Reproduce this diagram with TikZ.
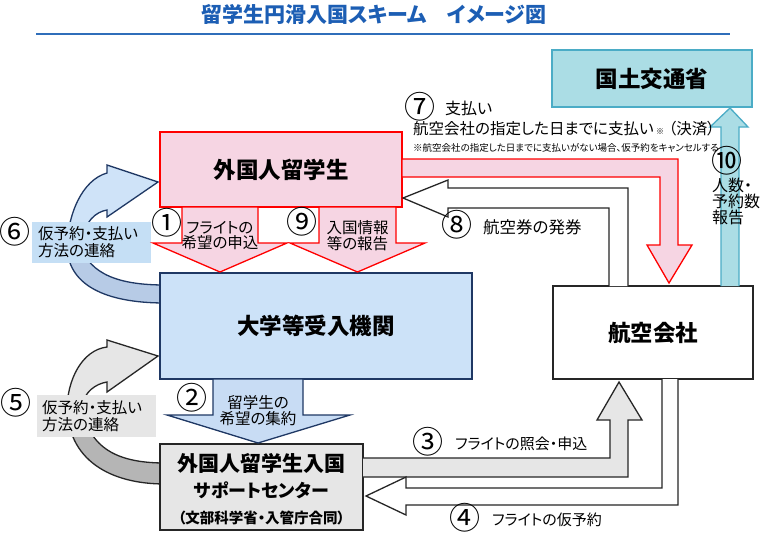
\documentclass[tikz,border=0pt]{standalone}
\usepackage{fontspec}
\setmainfont{Noto Sans CJK JP}[RawFeature=+palt]
\definecolor{titleblue}{HTML}{1C5EB4}
\definecolor{linecol}{HTML}{2F6EBA}
\definecolor{pinkf}{HTML}{F6D5E3}
\definecolor{univf}{HTML}{CCE2F8}
\definecolor{navy}{HTML}{1F3864}
\definecolor{arrowbf}{HTML}{C8DCF4}
\definecolor{bluetop}{HTML}{CFE3F8}
\definecolor{bluebot}{HTML}{B7CBE6}
\definecolor{lbl6f}{HTML}{C5DFF5}
\definecolor{grayf}{HTML}{E6E6E6}
\definecolor{graybot}{HTML}{B5B5B5}
\definecolor{darkline}{HTML}{262626}
\definecolor{tealf}{HTML}{ABDDE5}
\definecolor{teall}{HTML}{4BACC6}
\begin{document}
\begin{tikzpicture}[x=1pt,y=-1pt,
  box/.style={draw, line width=1.5pt, inner sep=0, align=center, font=\bfseries\fontsize{22.5}{24}\selectfont},
  num/.style={inner sep=0, font=\fontsize{31}{31}\selectfont},
  albl/.style={inner sep=0, align=center, font=\fontsize{15.5}{15.5}\selectfont},
  txt/.style={inner sep=0, anchor=west},
  redarr/.style={draw=red, fill=pinkf, line width=1.3pt, line join=miter},
  bluearr/.style={draw=navy, fill=arrowbf, line width=1.3pt, line join=miter},
  blkarr/.style={draw=darkline, line width=1.3pt, line join=miter},
  tealarr/.style={draw=teall, fill=tealf, line width=1.3pt, line join=miter}]
\useasboundingbox (0,0) rectangle (767,532);
\fill[white] (0,0) rectangle (767,532);

% title
\node[inner sep=0, text=titleblue, font=\bfseries\fontsize{21}{22}\selectfont] (title) at (374,14) {留学生円滑入国スキーム　イメージ図};
\draw[linecol, line width=2pt] (36,34) -- (730,34);

% curved arrow 6 (blue)
\draw[draw=navy, fill=bluebot, line width=1.3pt] (67,245) .. controls (67,285) and (105,303) .. (165,303) -- (165,285) .. controls (120,285) and (90,275) .. (80,245) -- cycle;
\draw[draw=navy, fill=bluetop, line width=1.3pt, line join=miter] (67,250) .. controls (67,215) and (82,180) .. (107,173) -- (107,165) -- (158,182) -- (107,217) -- (107,210) .. controls (95,212) and (85,222) .. (82,240) -- cycle;
% curved arrow 5 (gray)
\draw[draw=darkline, fill=graybot, line width=1.3pt] (67,405) .. controls (67,460) and (110,484) .. (165,484) -- (165,463) .. controls (120,463) and (88,450) .. (82,405) -- cycle;
\draw[draw=darkline, fill=grayf, line width=1.3pt, line join=miter] (67,410) .. controls (67,380) and (82,350) .. (107,347) -- (107,340) -- (158,356) -- (107,392) -- (107,382) .. controls (95,384) and (85,392) .. (82,405) -- cycle;

% label boxes for 6 and 5
\fill[lbl6f] (32,222) rectangle (151,263);
\node[txt, align=left, font=\fontsize{15.5}{17}\selectfont] (l6) at (38,242.5) {仮予約・支払い\\方法の連絡};
\fill[grayf] (37,395) rectangle (156,437);
\node[txt, align=left, font=\fontsize{15.5}{17}\selectfont] (l5) at (42,416) {仮予約・支払い\\方法の連絡};

% boxes
\node[box, draw=red, fill=pinkf, minimum width=242, minimum height=75] (stu) at (281,169.5) {外国人留学生};
\node[box, draw=navy, fill=univf, minimum width=312, minimum height=106] (univ) at (316,326) {大学等受入機関};
\node[box, draw=darkline, fill=grayf, minimum width=203, minimum height=86] (sup) at (261.5,487) {};
\node[box, draw=darkline, fill=white, minimum width=200, minimum height=93] (air) at (653,332.5) {航空会社};
\node[box, draw=teall, fill=tealf, minimum width=200, minimum height=57] (mlit) at (652,78.5) {国土交通省};
\node[inner sep=0, font=\bfseries\fontsize{21}{22}\selectfont] (sup1) at (261.5,463) {外国人留学生入国};
\node[inner sep=0, font=\bfseries\fontsize{18}{22}\selectfont] (sup2) at (261.5,490) {サポートセンター};
\node[inner sep=0, font=\bfseries\fontsize{14.5}{15}\selectfont] (sup3) at (261.5,518) {（文部科学省・入管庁合同）};

% arrows 1 and 9
\draw[redarr] (182,207) -- (258,207) -- (258,243) -- (287,243) -- (220,272) -- (153,243) -- (182,243) -- cycle;
\draw[redarr] (319,207) -- (396,207) -- (396,243) -- (425,243) -- (357.5,272) -- (290,243) -- (319,243) -- cycle;
% arrow 7
\draw[redarr] (402,177) -- (402,159) -- (678,159) -- (678,245) -- (692,245) -- (669,283) -- (647,245) -- (660,245) -- (660,177) -- cycle;
% arrow 8
\draw[blkarr, fill=white] (628,286) -- (628,188) -- (448,188) -- (448,180) -- (403,198) -- (448,217) -- (448,208) -- (609,208) -- (609,286);
% arrow 10
\draw[tealarr] (721,286) -- (721,127) -- (710,127) -- (730,108) -- (748,127) -- (739,127) -- (739,286);
% arrow 2
\draw[bluearr] (213,379) -- (303,379) -- (303,415) -- (350,415) -- (258,443) -- (167,415) -- (213,415) -- cycle;
% arrow 3
\draw[blkarr, fill=grayf] (363,458) -- (610,458) -- (610,420) -- (597,420) -- (619,382) -- (642,420) -- (628,420) -- (628,477) -- (363,477);
% arrow 4
\draw[blkarr, fill=white] (662,379) -- (662,488) -- (406,488) -- (406,477) -- (366,496) -- (406,515) -- (406,505) -- (678,505) -- (678,379);

% arrow labels
\node[albl] (t1) at (220,235.5) {フライトの\\希望の申込};
\node[albl] (t9) at (357.5,235.5) {入国情報\\等の報告};
\node[albl] (t2) at (258,410.5) {留学生の\\希望の集約};

% numbers
\node[num] (n1) at (167,223) {①};
\node[num] (n9) at (302,222) {⑨};
\node[num] (n6) at (14.5,232) {⑥};
\node[num] (n5) at (15.5,403) {⑤};
\node[num] (n2) at (192,398) {②};
\node[num] (n7) at (420,107) {⑦};
\node[num] (n8) at (457,225) {⑧};
\node[num] (n10) at (727,161) {⑩};
\node[num] (n3) at (428,442) {③};
\node[num] (n4) at (465,518) {④};

% texts
\node[txt, font=\fontsize{16}{17}\selectfont] (t7a) at (445,108) {支払い};
\node[inner sep=0, anchor=base west, font=\fontsize{15.5}{17}\selectfont] (t7b) at (413,134) {航空会社の指定した日までに支払い};
\node[inner sep=0, anchor=base west, font=\fontsize{8}{8}\selectfont] (t7s) at ([xshift=2pt]t7b.base east) {※};
\node[inner sep=0, anchor=base west, font=\fontsize{15.5}{17}\selectfont] (t7d) at ([xshift=4pt]t7s.base east) {（決済）};
\node[txt, font=\fontsize{9.5}{10}\selectfont] (t7c) at (413,147.5) {※航空会社の指定した日までに支払いがない場合、仮予約をキャンセルする};
\node[txt, font=\fontsize{16.5}{18}\selectfont] (t8) at (483,227) {航空券の発券};
\node[inner sep=0, anchor=north west, align=left, font=\fontsize{16}{14.5}\selectfont] (t10) at (712,178) {人数・\\予約数\\報告};
\node[txt, font=\fontsize{15}{15}\selectfont] (t3) at (455,444) {フライトの照会・申込};
\node[txt, font=\fontsize{15}{15}\selectfont] (t4) at (492,520) {フライトの仮予約};
\end{tikzpicture}
\end{document}
